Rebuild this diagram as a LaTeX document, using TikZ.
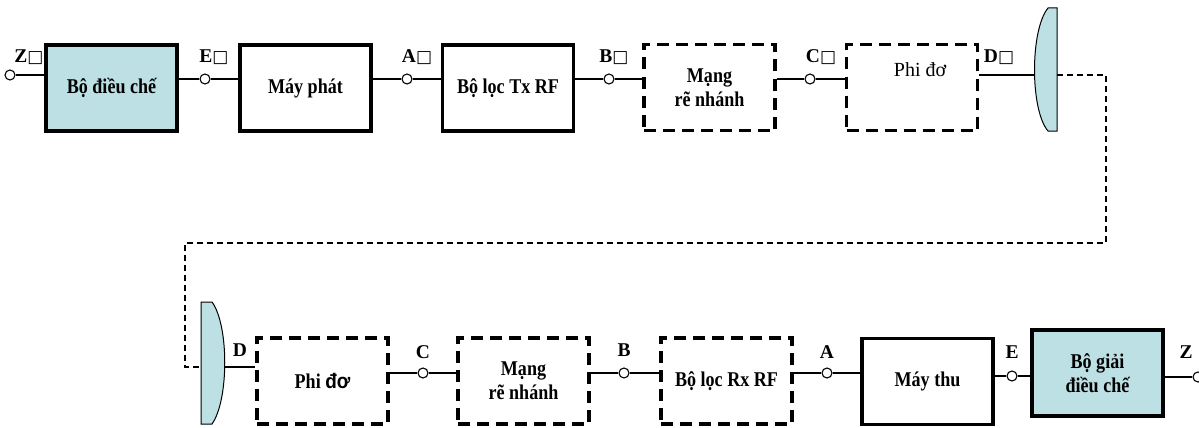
\documentclass[tikz,border=0pt]{standalone}
\usepackage{fontspec}
\setmainfont{Liberation Serif}
\newfontfamily\boxfont[FakeStretch=0.86]{Liberation Serif}
\newfontfamily\arialfont[FakeStretch=0.9]{Liberation Sans}
\newfontfamily\symfont{DejaVu Sans}
\newcommand{\nogl}{{\symfont\fontsize{17}{17}\selectfont □}}
\definecolor{antblue}{RGB}{188,224,228}

\begin{document}
\begin{tikzpicture}[x=1pt, y=-1pt,
    txt/.style={font=\boxfont\bfseries\fontsize{21}{24}\selectfont, align=center},
    blk/.style={txt, draw, line width=3.5pt, minimum width=131pt, minimum height=86pt, inner sep=0pt},
    dblk/.style={blk, dash pattern=on 12pt off 7pt, line width=3.2pt},
    term/.style={circle, draw, fill=white, line width=1.1pt, minimum size=10pt, inner sep=0pt},
    lbl/.style={font=\bfseries\fontsize{19.5}{19.5}\selectfont, inner sep=0pt},
    wire/.style={line width=1.6pt},
    feed/.style={line width=1.5pt, dash pattern=on 6pt off 4pt},
    antenna/.style={fill=antblue, draw, line width=1pt}]
    \useasboundingbox (0,0) rectangle (1199,428);

    % transmit side
    \node[blk, fill=antblue] (mod) at (111.5,88) {Bộ điều chế};
    \node[blk] (tx) at (305.5,88) {Máy phát};
    \node[blk] (txf) at (508,88) {Bộ lọc Tx RF};
    \node[dblk] (brn1) at (709.5,87.5) {Mạng\\rẽ nhánh};
    \node[dblk] (fd1) at (912,87.5) {};
    \node[font=\fontsize{20}{20}\selectfont] (fd1t) at (920,70) {Phi đơ};

    \node[term] (tz) at (10,75) {};
    \node[term] (te) at (205,79) {};
    \node[term] (ta) at (407,79) {};
    \node[term] (tb) at (609,79) {};
    \node[term] (tc) at (810,79) {};

    \node[lbl] (lz) at (29,57) {Z\nogl};
    \node[lbl] (le) at (214,57) {E\nogl};
    \node[lbl] (la) at (417,57) {A\nogl};
    \node[lbl] (lb) at (614,57) {B\nogl};
    \node[lbl] (lc) at (821,57) {C\nogl};
    \node[lbl] (ld) at (999,57) {D\nogl};

    \draw[wire] (tz) -- (mod.west |- tz);
    \draw[wire] (mod.east |- te) -- (te) -- (tx.west |- te);
    \draw[wire] (tx.east |- ta) -- (ta) -- (txf.west |- ta);
    \draw[wire] (txf.east |- tb) -- (tb) -- (brn1.west |- tb);
    \draw[wire] (brn1.east |- tc) -- (tc) -- (fd1.west |- tc);

    % antennas
    \coordinate (ant1w) at (1034,75);
    \coordinate (ant1e) at (1057,75);
    \draw[antenna] (1057,8) -- (1048,8) .. controls (1030,30) and (1030,110) .. (1048,131) -- (1057,131) -- cycle;
    \draw[wire] (fd1.east |- ant1w) -- (ant1w);

    \coordinate (ant2w) at (201,367);
    \coordinate (ant2e) at (225,367);
    \draw[antenna] (201,302) -- (212,302) .. controls (229,325) and (229,400) .. (212,424) -- (201,424) -- cycle;

    \coordinate (bendA) at (1106,243);
    \coordinate (bendB) at (185,243);
    \draw[feed] (ant1e) -| (bendA) -- (bendB) |- (ant2w);

    % receive side
    \node[dblk] (fd2) at (322.5,381) {Phi {\arialfont đơ}};
    \node[dblk] (brn2) at (523.5,381) {Mạng\\rẽ nhánh};
    \node[dblk] (rxf) at (726.5,381) {Bộ lọc Rx RF};
    \node[blk] (rx) at (927.5,381.5) {Máy thu};
    \node[blk, fill=antblue] (dem) at (1097.5,373) {Bộ giải\\điều chế};

    \node[term] (tc2) at (423,373) {};
    \node[term] (tb2) at (624,373) {};
    \node[term] (ta2) at (827,373) {};
    \node[term] (te2) at (1012,376) {};
    \node[term] (tz2) at (1198,377) {};

    \node[lbl] (ld2) at (240,350) {D};
    \node[lbl] (lc2) at (423,352) {C};
    \node[lbl] (lb2) at (624,350) {B};
    \node[lbl] (la2) at (827,352) {A};
    \node[lbl] (le2) at (1012,352) {E};
    \node[lbl] (lz2) at (1186,352) {Z};

    \draw[wire] (ant2e) -- (fd2.west |- ant2e);
    \draw[wire] (fd2.east |- tc2) -- (tc2) -- (brn2.west |- tc2);
    \draw[wire] (brn2.east |- tb2) -- (tb2) -- (rxf.west |- tb2);
    \draw[wire] (rxf.east |- ta2) -- (ta2) -- (rx.west |- ta2);
    \draw[wire] (rx.east |- te2) -- (te2) -- (dem.west |- te2);
    \draw[wire] (dem.east |- tz2) -- (tz2);
\end{tikzpicture}
\end{document}
